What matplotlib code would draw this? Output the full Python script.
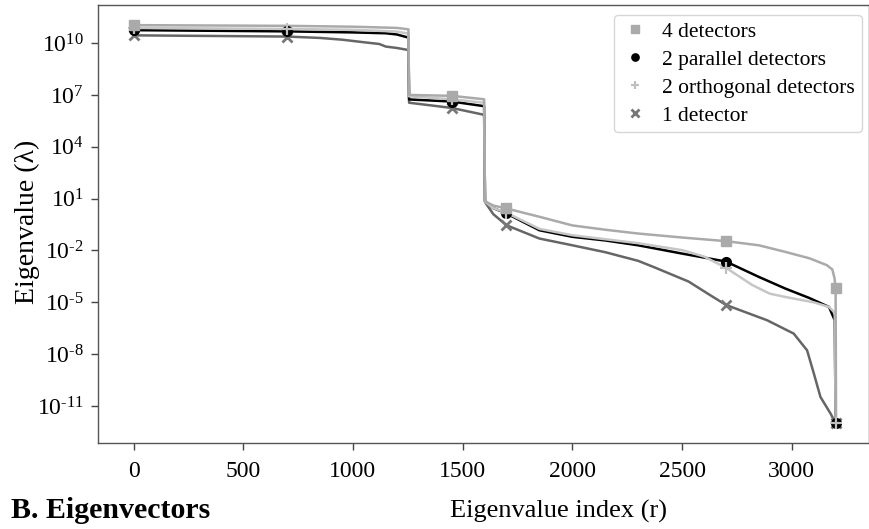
import numpy as np
import matplotlib
matplotlib.use("Agg")
import matplotlib.pyplot as plt

plt.rcParams['font.family'] = ['Liberation Serif', 'DejaVu Serif']
plt.rcParams['mathtext.fontset'] = 'custom'
plt.rcParams['mathtext.rm'] = 'Liberation Serif'
plt.rcParams['mathtext.it'] = 'Liberation Serif:italic'
plt.rcParams['mathtext.bf'] = 'Liberation Serif:bold'

# ---- data (x = eigenvalue index, values = log10 of eigenvalue) ----
x_4det = [0, 700, 1000, 1200, 1253, 1256, 1450, 1598, 1602, 1640, 1700, 1850, 2000, 2150,
          2300, 2500, 2700, 2850, 2970, 3080, 3160, 3185, 3195, 3200, 3202]
log_4det = [11.04, 11.0, 10.95, 10.88, 10.80, 7.0, 6.95, 6.75, 0.85, 0.6, 0.43, -0.05, -0.55, -0.8,
            -1.02, -1.25, -1.46, -1.7, -2.08, -2.45, -2.85, -3.1, -3.6, -4.2, -12.0]
mark_4det = [0, 6, 10, 16, 23]

x_par = [0, 700, 1000, 1150, 1200, 1253, 1256, 1450, 1598, 1602, 1640, 1700, 1850, 2000, 2150,
         2300, 2500, 2700, 2850, 2970, 3080, 3170, 3196, 3200]
log_par = [10.75, 10.68, 10.62, 10.57, 10.5, 10.32, 6.74, 6.62, 6.35, 0.85, 0.45, 0.14, -0.83, -1.21, -1.42,
           -1.70, -2.18, -2.64, -3.53, -4.2, -4.75, -5.27, -6.04, -12.0]
mark_par = [0, 1, 7, 11, 17, 23]

x_orth = [0, 700, 1000, 1200, 1253, 1256, 1450, 1598, 1602, 1640, 1700, 1850, 2000, 2150,
          2300, 2500, 2600, 2700, 2820, 2900, 2970, 3100, 3170, 3196, 3200]
log_orth = [10.88, 10.82, 10.77, 10.67, 10.55, 6.92, 6.75, 6.55, 0.82, 0.45, 0.18, -0.75, -1.12, -1.35,
            -1.58, -1.98, -2.35, -3.0, -4.0, -4.5, -4.69, -5.0, -5.27, -5.6, -12.0]
mark_orth = [0, 1, 6, 10, 17, 24]

x_1det = [0, 700, 850, 950, 1050, 1120, 1150, 1200, 1253, 1256, 1450, 1598, 1602, 1640, 1700,
          1850, 2000, 2150, 2300, 2373, 2530, 2630, 2700, 2888, 3009, 3070, 3101, 3131, 3177, 3200]
log_1det = [10.45, 10.38, 10.3, 10.2, 10.05, 9.95, 9.8, 9.72, 9.6, 6.55, 6.25, 5.85, 0.8, 0.1, -0.54,
            -1.31, -1.70, -2.1, -2.6, -2.97, -3.8, -4.6, -5.15, -6.04, -6.81, -7.78, -9.13, -10.48, -11.44, -12.0]
mark_1det = [0, 1, 10, 14, 22, 29]

labels = ['4 detectors', '2 parallel detectors', '2 orthogonal detectors', '1 detector']

xticks = [0, 500, 1000, 1500, 2000, 2500, 3000]
yexp = [-11, -8, -5, -2, 1, 4, 7, 10]

# ---- styles ----
c4, cp, co, c1 = '#aaaaaa', '#000000', '#c6c6c6', '#666666'

fig = plt.figure(figsize=(8.7, 5.29), dpi=100)
ax = fig.add_axes([0.1126, 0.162, 0.8857, 0.829])

series = [
    (x_1det, log_1det, mark_1det, c1, 'x', '#777777', 7, 2.0),
    (x_par, log_par, mark_par, cp, 'o', '#000000', 7, 1.0),
    (x_orth, log_orth, mark_orth, co, '+', '#c0c0c0', 8, 1.6),
    (x_4det, log_4det, mark_4det, c4, 's', '#aaaaaa', 7, 1.0),
]
for xs, ls, mk, col, m, mcol, ms, mew in series:
    ys = 10.0 ** np.array(ls)
    ax.plot(xs, ys, color=col, lw=1.8, zorder=2)

handles = {}
for (xs, ls, mk, col, m, mcol, ms, mew), lab in zip(series, [labels[3], labels[1], labels[2], labels[0]]):
    ys = 10.0 ** np.array(ls)
    xm = [xs[i] for i in mk]
    ym = [ys[i] for i in mk]
    h, = ax.plot(xm, ym, linestyle='none', marker=m, color=mcol, ms=ms, mew=mew, zorder=3, label=lab)
    handles[lab] = h

ax.set_yscale('log')
ax.set_xlim(-162, 3350)
ax.set_ylim(10 ** -13.16, 10 ** 12.22)
ax.set_xticks(xticks)
ax.set_xticklabels([str(t) for t in xticks])
ax.set_yticks([10.0 ** e for e in yexp])
ax.set_yticklabels([(r'$\mathregular{10^{\text{-}%d}}$' % -e) if e < 0 else (r'$\mathregular{10^{%d}}$' % e)
                    for e in yexp])
ax.yaxis.set_minor_locator(matplotlib.ticker.NullLocator())
ax.tick_params(axis='both', labelsize=17, length=5, width=1, color='#444444', pad=5)
ax.tick_params(axis='x', pad=8)
for sp in ax.spines.values():
    sp.set_color('#555555')
    sp.set_linewidth(1.0)

leg = ax.legend([handles[l] for l in labels], labels, loc='upper right',
                bbox_to_anchor=(0.991, 0.9765), borderaxespad=0.0, fontsize=15.5, frameon=True,
                markerscale=0.75, handletextpad=0.55, labelspacing=0.37, borderpad=0.3,
                handlelength=1.4)
leg.get_frame().set_edgecolor('#cccccc')

fig.text(27 / 870, 1 - 222 / 529, 'Eigenvalue (λ)', rotation=90, ha='center', va='center', fontsize=20)
fig.text(559 / 870, 1 - 511 / 529, 'Eigenvalue index (r)', ha='center', va='center', fontsize=19)
fig.text(11 / 870, 1 - 510 / 529, 'B. Eigenvectors', ha='left', va='center', fontsize=21.5,
         fontweight='bold')

fig.savefig('out.png', dpi=100)
